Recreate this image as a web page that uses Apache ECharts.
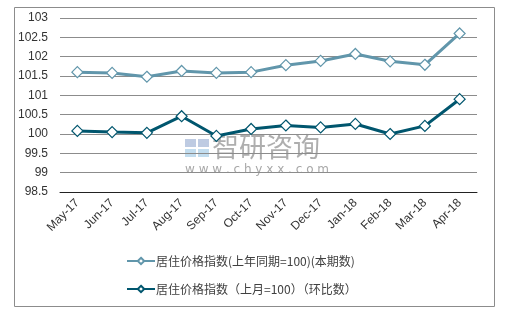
<!DOCTYPE html>
<html>
<head>
<meta charset="utf-8">
<script src="https://cdn.jsdelivr.net/npm/echarts@6/dist/echarts.min.js"></script>
<style>
html, body { margin: 0; padding: 0; background: #fff; }
#divChart { width: 505px; height: 310px; }
</style>
</head>
<body>
<div id="divChart"></div>
<script>
// 月份
var arrMonths = ['May-17', 'Jun-17', 'Jul-17', 'Aug-17', 'Sep-17', 'Oct-17', 'Nov-17', 'Dec-17', 'Jan-18', 'Feb-18', 'Mar-18', 'Apr-18'];
// 上年同期=100
var arrYoY = [101.6, 101.58, 101.48, 101.63, 101.58, 101.6, 101.78, 101.89, 102.07, 101.88, 101.79, 102.6];
// 上月=100
var arrMoM = [100.08, 100.05, 100.03, 100.46, 99.95, 100.13, 100.22, 100.17, 100.26, 100.0, 100.21, 100.9];
var strNameYoY = '居住价格指数(上年同期=100)(本期数)';
var strNameMoM = '居住价格指数（上月=100）（环比数）';

var chartLine = echarts.init(document.getElementById('divChart'));
var strFont = '"Liberation Sans", Arial, "Noto Sans CJK SC", sans-serif';

var optLine = {
    animation: false,
    textStyle: { fontFamily: strFont },
    grid: { left: 60, right: 28, top: 18, bottom: 118 },
    graphic: [
        {
            type: 'rect', left: 12, top: 5,
            shape: { width: 480, height: 299 },
            style: { fill: 'none', stroke: '#8c8c8c', lineWidth: 1 },
            z: -1
        },
        {
            type: 'group', left: 185, top: 133, z: 0,
            children: [
                { type: 'rect', shape: { x: 0, y: 2, width: 11, height: 8 }, style: { fill: 'rgba(110,140,190,0.45)' } },
                { type: 'rect', shape: { x: 13, y: 2, width: 11, height: 8 }, style: { fill: 'rgba(110,140,190,0.45)' } },
                { type: 'rect', shape: { x: 0, y: 12, width: 11, height: 8 }, style: { fill: 'rgba(120,180,220,0.45)' } },
                { type: 'rect', shape: { x: 13, y: 12, width: 11, height: 8 }, style: { fill: 'rgba(120,180,220,0.45)' } },
                { type: 'text', x: 27, y: -4, style: { text: '智研咨询', font: '27px "Noto Sans CJK SC"', fill: 'rgba(120,120,120,0.6)' } },
                { type: 'text', x: 0, y: 27, style: { text: 'w w w . c h y x x . c o m', font: '12px "DejaVu Sans"', fill: 'rgba(120,120,120,0.65)' } }
            ]
        }
    ],
    legend: {
        orient: 'vertical',
        left: 121,
        top: 250,
        itemWidth: 28,
        itemHeight: 8,
        itemGap: 16,
        textStyle: { fontSize: 12, color: '#404040', fontFamily: '"Noto Sans CJK SC", sans-serif', padding: [0, 0, 0, -4] },
        data: [strNameYoY, strNameMoM]
    },
    xAxis: {
        type: 'category',
        data: arrMonths,
        boundaryGap: true,
        axisLine: { lineStyle: { color: '#222', width: 1 } },
        axisTick: { inside: true, length: 4, lineStyle: { color: '#222' } },
        axisLabel: { rotate: 45, fontSize: 12, color: '#333', margin: 9, interval: 0 }
    },
    yAxis: {
        type: 'value',
        min: 98.5,
        max: 103,
        interval: 0.5,
        axisLine: { show: false },
        axisTick: { show: false },
        axisLabel: { fontSize: 12, color: '#333', margin: 12 },
        splitLine: { lineStyle: { color: '#8c8c8c', width: 1 } }
    },
    series: [
        {
            name: strNameYoY,
            type: 'line',
            data: arrYoY,
            symbol: 'diamond',
            symbolSize: 11,
            lineStyle: { color: '#6196ab', width: 3 },
            itemStyle: { color: '#fff', borderColor: '#6196ab', borderWidth: 1.2 },
            z: 3
        },
        {
            name: strNameMoM,
            type: 'line',
            data: arrMoM,
            symbol: 'diamond',
            symbolSize: 11,
            lineStyle: { color: '#00566e', width: 3 },
            itemStyle: { color: '#fff', borderColor: '#00566e', borderWidth: 1.2 },
            z: 3
        }
    ]
};
chartLine.setOption(optLine);
</script>
</body>
</html>
